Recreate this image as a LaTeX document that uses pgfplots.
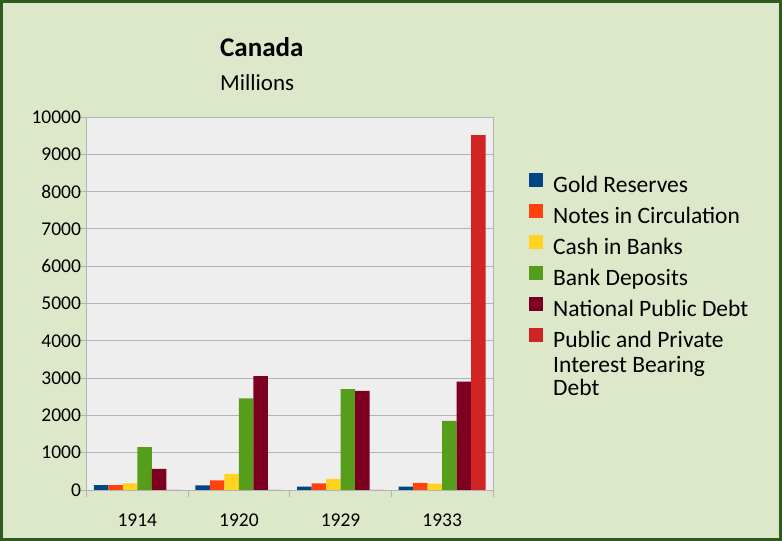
\documentclass[border=0pt]{standalone}
\usepackage{fontspec}
\setmainfont{Carlito}
\usepackage{pgfplots}
\pgfplotsset{compat=1.18}

\definecolor{bg}{HTML}{DDE8CB}
\definecolor{frame}{HTML}{2E5B1E}
\definecolor{plotbg}{HTML}{EEEEEE}
\definecolor{gridc}{HTML}{B3B3B3}
\definecolor{cgold}{HTML}{004586}
\definecolor{cnotes}{HTML}{FF420E}
\definecolor{ccash}{HTML}{FFD320}
\definecolor{cdep}{HTML}{579D1C}
\definecolor{cdebt}{HTML}{7E0021}
\definecolor{cpriv}{HTML}{D02424}

\newcommand{\tickfont}{\fontsize{19.5bp}{24bp}\selectfont}
\newcommand{\legfont}{\fontsize{23.5bp}{24bp}\selectfont}

\begin{document}
\begin{tikzpicture}[x=1bp,y=1bp]
\useasboundingbox (0,0) rectangle (782,541);
\fill[bg] (0,0) rectangle (782,541);
\draw[frame, line width=3bp] (1.5,1.5) rectangle (780.5,539.5);

\node[anchor=base west, inner sep=0, font=\fontsize{27bp}{30bp}\selectfont\bfseries] at (220,484) {Canada};
\node[anchor=base west, inner sep=0, font=\fontsize{23bp}{26bp}\selectfont] at (220,450) {Millions};

\begin{axis}[
  at={(86.5bp,51bp)}, anchor=south west,
  scale only axis, width=406.5bp, height=373bp,
  ybar=0pt, bar width=14.5bp,
  xmin=-0.5, xmax=3.5, ymin=0, ymax=10000,
  xtick={0,1,2,3}, xticklabels={1914,1920,1929,1933},
  minor xtick={-0.5,0.5,1.5,2.5,3.5},
  major x tick style={draw=none},
  minor tick length=7bp,
  xticklabel style={yshift=-12bp},
  ytick={0,1000,...,10000},
  major tick length=8.5bp,
  tick align=outside,
  tick pos=left,
  tick style={gridc, line width=0.8bp},
  ymajorgrids, grid style={gridc, line width=0.8bp},
  axis line style={gridc, line width=0.8bp},
  axis background/.style={fill=plotbg},
  ticklabel style={font=\tickfont, text=black},
  yticklabel style={xshift=6.5bp},
  /pgf/number format/set thousands separator={},
  /pgf/number format/assume math mode=true,
  scaled y ticks=false,
  every axis plot/.append style={draw=none},
]
\addplot[fill=cgold] coordinates {(0,130) (1,125) (2,90) (3,90)};
\addplot[fill=cnotes] coordinates {(0,130) (1,260) (2,180) (3,190)};
\addplot[fill=ccash] coordinates {(0,180) (1,430) (2,295) (3,170)};
\addplot[fill=cdep] coordinates {(0,1150) (1,2455) (2,2705) (3,1850)};
\addplot[fill=cdebt] coordinates {(0,565) (1,3055) (2,2655) (3,2905)};
\addplot[fill=cpriv] coordinates {(0,0) (1,0) (2,0) (3,9515)};
\end{axis}

% legend
\foreach \c/\b/\t in {cgold/348.5/Gold Reserves,
                       cnotes/317/Notes in Circulation,
                       ccash/286/Cash in Banks,
                       cdep/255.3/Bank Deposits,
                       cdebt/224.6/National Public Debt,
                       cpriv/193/Public and Private}{
  \fill[\c] (529,\b+5.5) rectangle (543,\b+19.8);
  \node[anchor=base west, inner sep=0, font=\legfont] at (553,\b) {\t};
}
\node[anchor=base west, inner sep=0, font=\legfont] at (553,168.6) {Interest Bearing};
\node[anchor=base west, inner sep=0, font=\legfont] at (553,145.3) {Debt};
\end{tikzpicture}
\end{document}
